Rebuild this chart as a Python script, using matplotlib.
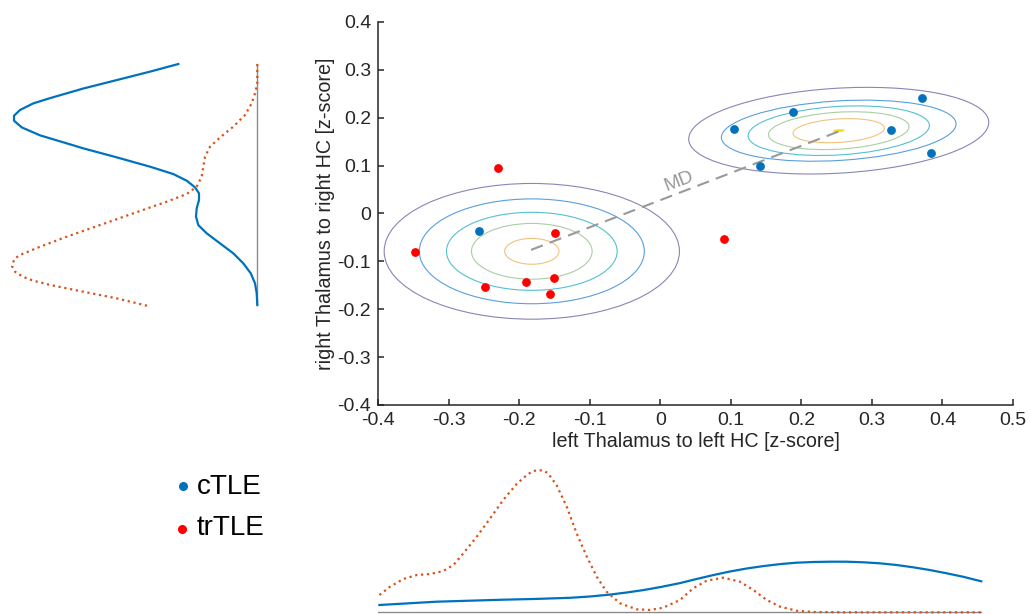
import numpy as np
import matplotlib
matplotlib.use("Agg")
import matplotlib.pyplot as plt
from matplotlib.patches import Ellipse
from matplotlib.lines import Line2D

plt.rcParams['font.family'] = ['Liberation Sans', 'DejaVu Sans']

BLUE = "#0072BD"
ORANGE = "#D95319"
RED = "#FF0000"
DARK = "#262626"
GREY = "#999999"

# scatter points (z-scores)
ctle_x = [0.104, 0.188, 0.371, 0.327, 0.384, 0.141, -0.257]
ctle_y = [0.177, 0.211, 0.242, 0.174, 0.126, 0.099, -0.037]
trtle_x = [-0.230, -0.149, -0.348, -0.248, -0.190, -0.151, -0.156, 0.091]
trtle_y = [0.096, -0.041, -0.080, -0.153, -0.143, -0.135, -0.168, -0.053]

# group means joined by MD line
mean_ctle = (0.254, 0.172)
mean_trtle = (-0.183, -0.076)

# contour ellipses: width, height, angle
cont_colors = ["#8a84b8", "#5a9fdc", "#55c0d2", "#a9cfa2", "#f2c27c", "#eee331"]
left_w = [0.4185, 0.319, 0.242, 0.171, 0.077]
left_h = [0.2835, 0.219, 0.163, 0.1165, 0.054]
left_c = (-0.182, -0.079)
right_w = [0.427, 0.334, 0.258, 0.200, 0.130, 0.014]
right_h = [0.177, 0.124, 0.101, 0.077, 0.049, 0.003]
right_c = (0.253, 0.173)
right_ang = 5.6

# bottom marginal density (left thalamus)
bot_x_tr = [-0.398, -0.383, -0.364, -0.345, -0.326, -0.3075, -0.293, -0.279, -0.260,
            -0.241, -0.2225, -0.2035, -0.189, -0.181, -0.173, -0.165, -0.159, -0.147,
            -0.1325, -0.1185, -0.104, -0.090, -0.076, -0.057, -0.0335, -0.0146, 0.0043,
            0.028, 0.0468, 0.0658, 0.0893, 0.113, 0.132, 0.151, 0.170, 0.193, 0.217,
            0.264, 0.455]
bot_d_tr = [0.173, 0.256, 0.333, 0.373, 0.383, 0.413, 0.473, 0.59, 0.756,
            0.94, 1.123, 1.283, 1.373, 1.41, 1.423, 1.415, 1.39, 1.273,
            1.056, 0.79, 0.556, 0.356, 0.206, 0.09, 0.03, 0.023, 0.046,
            0.123, 0.24, 0.316, 0.346, 0.306, 0.223, 0.123, 0.056, 0.016, 0.003,
            0.0, 0.0]
bot_x_c = [-0.398, -0.317, -0.270, -0.2225, -0.175, -0.128, -0.0996, -0.0713, -0.0476,
           -0.024, 0.0, 0.028, 0.0515, 0.075, 0.0988, 0.1225, 0.146, 0.170, 0.193,
           0.217, 0.2405, 0.264, 0.288, 0.311, 0.335, 0.3585, 0.382, 0.406, 0.429, 0.455]
bot_d_c = [0.073, 0.106, 0.116, 0.126, 0.134, 0.145, 0.158, 0.177, 0.198,
           0.222, 0.252, 0.292, 0.333, 0.372, 0.408, 0.438, 0.462, 0.482, 0.496,
           0.503, 0.506, 0.506, 0.50, 0.49, 0.473, 0.45, 0.423, 0.39, 0.356, 0.31]

# left marginal density (right thalamus)
lft_y_c = [0.35, 0.331, 0.310, 0.289, 0.265, 0.252, 0.2355, 0.2213, 0.2089, 0.1923,
           0.1724, 0.1525, 0.140, 0.1176, 0.0944, 0.076, 0.0595, 0.043, 0.028, 0.0114,
           -0.0094, -0.030, -0.051, -0.0716, -0.0965, -0.1214, -0.1463, -0.171, -0.196,
           -0.221, -0.250]
lft_d_c = [0.79, 1.073, 1.406, 1.74, 2.073, 2.24, 2.373, 2.433, 2.433, 2.356,
           2.173, 1.906, 1.74, 1.406, 1.073, 0.84, 0.706, 0.623, 0.583, 0.583,
           0.606, 0.613, 0.59, 0.506, 0.373, 0.24, 0.14, 0.066, 0.023,
           0.006, 0.0]
lft_y_tr = [0.35, 0.302, 0.277, 0.252, 0.223, 0.194, 0.167, 0.144, 0.119, 0.0944,
            0.0695, 0.0446, 0.0263, 0.0072, -0.0218, -0.051, -0.080, -0.105, -0.1256,
            -0.1339, -0.1463, -0.153, -0.167, -0.173, -0.1837, -0.1895, -0.200, -0.217,
            -0.2335, -0.2526]
lft_d_tr = [0.0, 0.0, 0.023, 0.056, 0.123, 0.24, 0.373, 0.473, 0.523, 0.54,
            0.556, 0.606, 0.706, 0.906, 1.24, 1.573, 1.906, 2.173, 2.373,
            2.423, 2.446, 2.453, 2.423, 2.39, 2.306, 2.24, 2.073, 1.74,
            1.406, 1.09]

fig = plt.figure(figsize=(10.3, 6.14), dpi=100, facecolor="white")

# main scatter axes
ax = fig.add_axes([378/1030, 1-405/614, 635/1030, 383/614])
for w, h, c in zip(left_w, left_h, cont_colors):
    ax.add_patch(Ellipse(left_c, w, h, fill=False, edgecolor=c, linewidth=0.8))
for w, h, c in zip(right_w, right_h, cont_colors):
    ax.add_patch(Ellipse(right_c, w, h, angle=right_ang, fill=False, edgecolor=c,
                         linewidth=0.8 if h > 0.01 else 1.2))
ax.plot([mean_trtle[0], mean_ctle[0]], [mean_trtle[1], mean_ctle[1]],
        color=GREY, linewidth=1.5, dashes=(6, 3.5))
ax.text(0.027, 0.067, "MD", color=GREY, fontsize=14, rotation=21,
        ha="center", va="center")
ax.scatter(ctle_x, ctle_y, s=28, color=BLUE, zorder=3)
ax.scatter(trtle_x, trtle_y, s=28, color=RED, zorder=3)

ax.set_xlim(-0.4, 0.5)
ax.set_ylim(-0.4, 0.4)
ax.set_xticks(np.arange(-0.4, 0.51, 0.1))
ax.set_yticks(np.arange(-0.4, 0.41, 0.1))
ax.set_xticklabels(["-0.4", "-0.3", "-0.2", "-0.1", "0", "0.1", "0.2", "0.3", "0.4", "0.5"])
ax.set_yticklabels(["-0.4", "-0.3", "-0.2", "-0.1", "0", "0.1", "0.2", "0.3", "0.4"])
ax.spines[["top", "right"]].set_visible(False)
for s in ["left", "bottom"]:
    ax.spines[s].set_color(DARK)
    ax.spines[s].set_linewidth(1.1)
ax.tick_params(direction="in", length=4, width=1.1, color=DARK,
               labelcolor=DARK, labelsize=14, pad=5)
ax.set_xlabel("left Thalamus to left HC [z-score]", fontsize=14.2, color=DARK, labelpad=2)
ax.set_ylabel("right Thalamus to right HC [z-score]", fontsize=14.2, color=DARK, labelpad=2)

# bottom marginal
axb = fig.add_axes([378/1030, 0, 635/1030, 154/614])
axb.plot([-0.4, 0.455], [0, 0], color="#8c8c8c", linewidth=1.0)
axb.plot(bot_x_c, bot_d_c, color=BLUE, linewidth=1.6)
axb.plot(bot_x_tr, bot_d_tr, color=ORANGE, linewidth=1.6, linestyle=":")
axb.set_xlim(-0.4, 0.5)
axb.set_ylim(-0.017, 1.523)
axb.axis("off")

# left marginal
axl = fig.add_axes([0, 1-320/614, 260/1030, 270/614])
axl.plot([0, 0], [-0.25, 0.35], color="#8c8c8c", linewidth=1.0)
axl.plot(lft_d_c, lft_y_c, color=BLUE, linewidth=1.6)
axl.plot(lft_d_tr, lft_y_tr, color=ORANGE, linewidth=1.6, linestyle=":")
axl.set_xlim(2.573, -0.027)
axl.set_ylim(-0.2874, 0.3849)
axl.axis("off")

# legend
fig.lines.append(Line2D([183/1030], [1-486/614], marker="o", markersize=5.5,
                        color=BLUE, transform=fig.transFigure))
fig.lines.append(Line2D([182/1030], [1-529/614], marker="o", markersize=5.5,
                        color=RED, transform=fig.transFigure))
fig.text(197/1030, 1-487/614, "cTLE", fontsize=20, color="black", va="center")
fig.text(197/1030, 1-528/614, "trTLE", fontsize=20, color="black", va="center")

fig.savefig("out.png", dpi=100, facecolor="white")
